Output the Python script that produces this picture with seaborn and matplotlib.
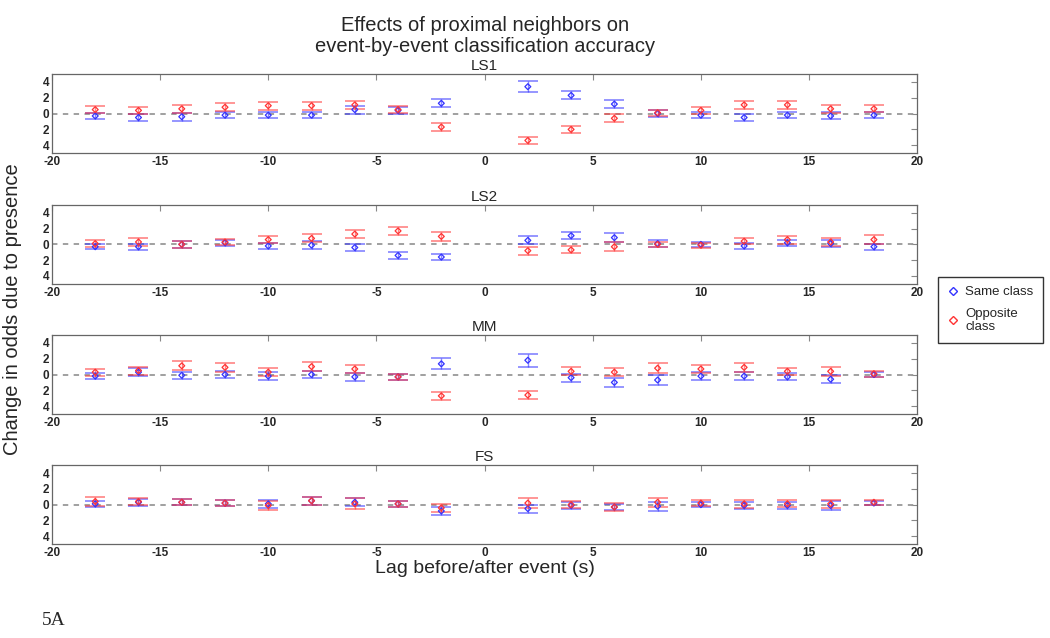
import numpy as np
import pandas as pd
import matplotlib
matplotlib.use("Agg")
import matplotlib.pyplot as plt
import seaborn as sns
from matplotlib.lines import Line2D

sns.set_theme(style="white")
plt.rcParams['font.family'] = ['Liberation Sans', 'DejaVu Sans']

lags = [-18, -16, -14, -12, -10, -8, -6, -4, -2, 2, 4, 6, 8, 10, 12, 14, 16, 18]
panels = ["LS1", "LS2", "MM", "FS"]

same_mean = {
    "LS1": [-0.3, -0.5, -0.4, -0.2, -0.2, -0.2, 0.5, 0.4, 1.3, 3.4, 2.3, 1.2, 0.0, -0.2, -0.5, -0.2, -0.3, -0.2],
    "LS2": [-0.3, -0.3, 0.0, 0.2, -0.2, -0.1, -0.4, -1.4, -1.6, 0.5, 1.1, 0.85, 0.1, 0.0, -0.2, 0.2, 0.1, -0.3],
    "MM":  [-0.2, 0.3, -0.1, 0.0, -0.2, 0.0, -0.3, -0.3, 1.35, 1.8, -0.4, -1.0, -0.7, -0.2, -0.2, -0.3, -0.6, 0.0],
    "FS":  [0.1, 0.3, 0.3, 0.2, 0.1, 0.5, 0.3, 0.1, -0.8, -0.5, -0.1, -0.3, -0.2, 0.0, -0.1, -0.1, -0.1, 0.2],
}
same_err = {
    "LS1": [0.4, 0.45, 0.5, 0.4, 0.4, 0.4, 0.5, 0.4, 0.5, 0.7, 0.5, 0.5, 0.4, 0.35, 0.4, 0.35, 0.45, 0.35],
    "LS2": [0.35, 0.4, 0.4, 0.4, 0.4, 0.5, 0.5, 0.4, 0.4, 0.5, 0.45, 0.55, 0.4, 0.3, 0.4, 0.4, 0.4, 0.4],
    "MM":  [0.4, 0.5, 0.45, 0.5, 0.5, 0.5, 0.5, 0.4, 0.7, 0.8, 0.5, 0.55, 0.6, 0.5, 0.5, 0.45, 0.5, 0.3],
    "FS":  [0.4, 0.45, 0.4, 0.4, 0.5, 0.5, 0.5, 0.4, 0.5, 0.5, 0.4, 0.4, 0.55, 0.3, 0.45, 0.4, 0.55, 0.3],
}
opp_mean = {
    "LS1": [0.5, 0.4, 0.6, 0.8, 1.0, 1.0, 1.1, 0.5, -1.7, -3.4, -2.0, -0.6, 0.1, 0.4, 1.1, 1.1, 0.6, 0.6],
    "LS2": [0.1, 0.3, 0.0, 0.3, 0.6, 0.75, 1.3, 1.7, 1.0, -0.8, -0.7, -0.3, 0.0, -0.1, 0.4, 0.6, 0.3, 0.6],
    "MM":  [0.3, 0.5, 1.1, 0.9, 0.3, 1.0, 0.7, -0.3, -2.7, -2.6, 0.4, 0.3, 0.8, 0.7, 0.9, 0.4, 0.4, 0.1],
    "FS":  [0.4, 0.4, 0.3, 0.2, -0.1, 0.5, 0.1, 0.1, -0.4, 0.2, 0.0, -0.3, 0.3, 0.2, 0.1, 0.1, 0.1, 0.3],
}
opp_err = {
    "LS1": [0.4, 0.4, 0.5, 0.5, 0.5, 0.5, 0.5, 0.4, 0.5, 0.5, 0.45, 0.5, 0.4, 0.4, 0.5, 0.5, 0.5, 0.45],
    "LS2": [0.4, 0.45, 0.4, 0.4, 0.45, 0.5, 0.5, 0.5, 0.6, 0.5, 0.45, 0.55, 0.35, 0.3, 0.4, 0.5, 0.45, 0.55],
    "MM":  [0.45, 0.5, 0.55, 0.55, 0.5, 0.6, 0.55, 0.4, 0.5, 0.55, 0.5, 0.55, 0.6, 0.55, 0.6, 0.45, 0.55, 0.4],
    "FS":  [0.55, 0.5, 0.4, 0.4, 0.6, 0.5, 0.7, 0.4, 0.5, 0.6, 0.4, 0.5, 0.6, 0.4, 0.5, 0.45, 0.55, 0.35],
}
series_names = ["Same class", "Opposite class"]
legend_labels = ["Same class", "Opposite\nclass"]
colors = {"Same class": "#3333ff", "Opposite class": "#ff3333"}
yticks = [-4, -2, 0, 2, 4]
ytick_labels = ["4", "2", "0", "2", "4"]
xticks = [-20, -15, -10, -5, 0, 5, 10, 15, 20]

rows = []
for p in panels:
    for name, m, e in [("Same class", same_mean[p], same_err[p]),
                       ("Opposite class", opp_mean[p], opp_err[p])]:
        for x, mv, ev in zip(lags, m, e):
            rows.append(dict(panel=p, series=name, lag=x, value=mv, err=ev))
df = pd.DataFrame(rows)

fig = plt.figure(figsize=(10.5, 6.38), dpi=100)
bottoms = [0.760, 0.555, 0.351, 0.147]
frame_col = "#666666"
for p, b in zip(panels, bottoms):
    ax = fig.add_axes([0.0495, b, 0.824, 0.124])
    ax.axhline(0, color="#999999", linestyle=(0, (3, 3)), linewidth=1.3, zorder=1)
    for s in series_names:
        d = df[(df.panel == p) & (df.series == s)]
        ax.errorbar(d.lag, d.value, yerr=d.err, fmt="none", ecolor=colors[s],
                    alpha=0.6, elinewidth=1.0, capsize=7, capthick=1.2, zorder=2)
    sns.scatterplot(data=df[df.panel == p], x="lag", y="value", hue="series",
                    palette=colors, marker="D", s=9, linewidth=0.9,
                    legend=False, ax=ax, zorder=3)
    coll = ax.collections[-1]
    fc = coll.get_facecolors()
    coll.set_edgecolors(fc)
    coll.set_facecolors("none")
    ax.set_xlim(-20, 20)
    ax.set_ylim(-5, 5)
    ax.set_xticks(xticks)
    ax.set_xticklabels([str(t) for t in xticks])
    ax.set_yticks(yticks)
    ax.set_yticklabels(ytick_labels)
    ax.tick_params(direction="in", length=4, width=0.8, color="#888888",
                   top=True, right=True, labelsize=8.5, pad=2)
    for lab in ax.get_xticklabels() + ax.get_yticklabels():
        lab.set_fontweight("bold")
    for sp in ax.spines.values():
        sp.set_color(frame_col)
        sp.set_linewidth(0.9)
    ax.set_xlabel("")
    ax.set_ylabel("")
    ax.set_title(p, fontsize=11, pad=3)
    if p == "FS":
        ax.set_xlabel("Lag before/after event (s)", fontsize=14, labelpad=1)

fig.text(0.462, 0.975, "Effects of proximal neighbors on\nevent-by-event classification accuracy",
         ha="center", va="top", fontsize=14.5, linespacing=1.15)
fig.text(0.012, 0.515, "Change in odds due to presence", rotation=90,
         ha="center", va="center", fontsize=14.5)
fig.text(0.04, 0.014, "5A", family="Liberation Serif", fontsize=14, ha="left", va="bottom")

handles = [Line2D([], [], linestyle="none", marker="D", markersize=4,
                  markerfacecolor="none", markeredgecolor=colors[s], markeredgewidth=1.0)
           for s in series_names]
leg = fig.legend(handles, legend_labels, loc="upper left",
                 bbox_to_anchor=(0.893, 0.566), borderaxespad=0.0,
                 fontsize=9.5, frameon=True,
                 fancybox=False, edgecolor="black", handletextpad=0.4,
                 handlelength=1.0, borderpad=0.7, labelspacing=0.7)
leg.get_frame().set_linewidth(1.0)

fig.savefig("out.png", dpi=100)
